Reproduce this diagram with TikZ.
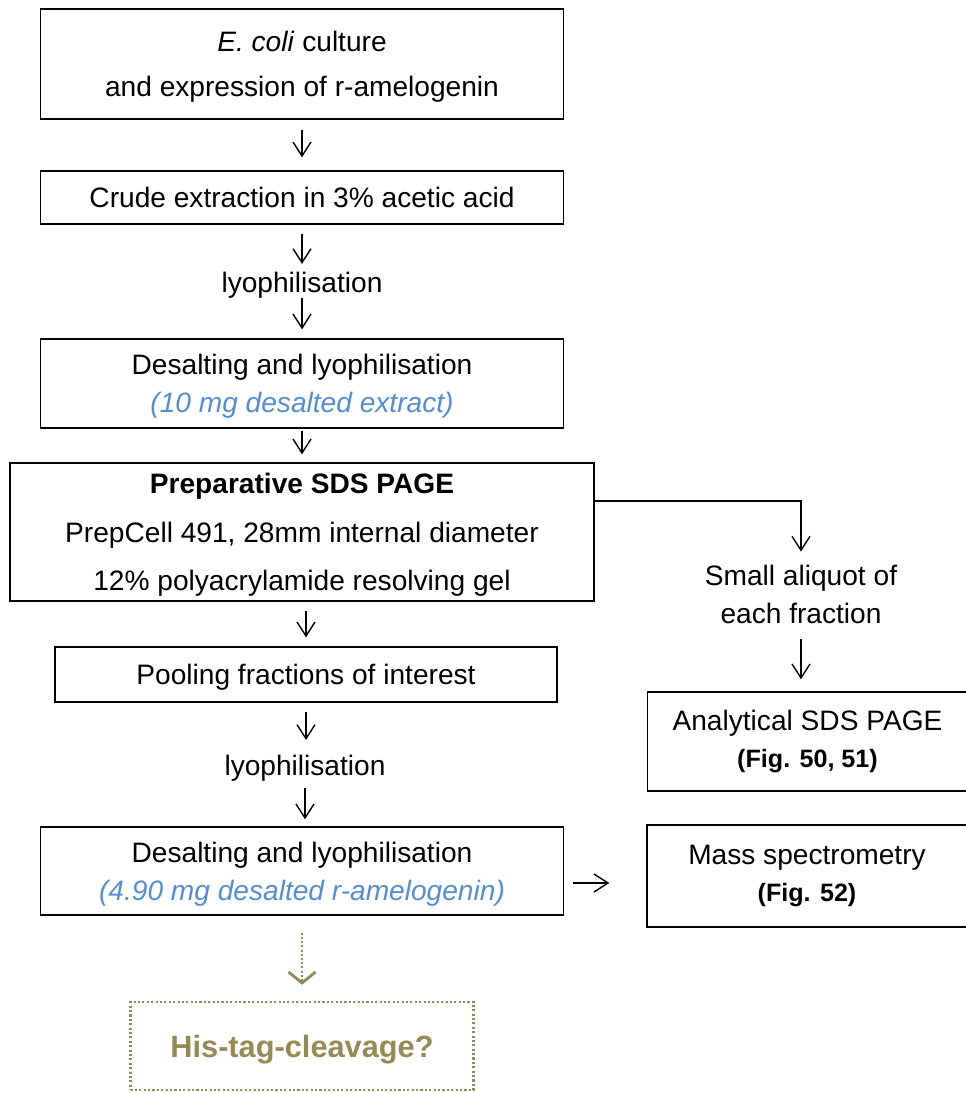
\documentclass[tikz,border=0pt]{standalone}
\usepackage{fontspec}
\setmainfont{Liberation Sans}
\usetikzlibrary{arrows.meta}

\definecolor{yieldblue}{RGB}{84,141,212}
\definecolor{outlook}{RGB}{148,138,84}

\newcommand{\yield}[1]{{\color{yieldblue}\itshape #1}}
\newcommand{\figcite}[1]{{\fontsize{14.3}{18}\selectfont\bfseries #1}}

\tikzstyle{stage} = [rectangle, minimum width=10.46cm, minimum height=1.06cm, inner sep=0pt, text depth=0pt, text centered, align=center, draw=black, line width=0.8pt]
\tikzstyle{treat} = [inner sep=0pt, text depth=0pt, text centered, align=center]
\tikzstyle{result} = [rectangle, minimum width=6.4cm, minimum height=2cm, inner sep=0pt, text centered, align=center, draw=black, line width=0.8pt, font=\fontsize{16}{21}\selectfont]
\tikzstyle{pending} = [rectangle, minimum width=6.86cm, minimum height=1.76cm, text depth=0pt, text centered, draw=outlook, line width=1.4pt, dash pattern=on 1.2pt off 1.3pt, text=outlook, font=\fontsize{17.5}{21}\selectfont\bfseries]
\tikzstyle{arrow} = [line width=0.8pt, -{Straight Barb[length=2.8mm, width=3.6mm]}]
\tikzstyle{dotarrow} = [draw=outlook, line width=1.5pt, dash pattern=on 1.1pt off 1.3pt, -{Straight Barb[length=2.2mm, width=5.4mm, line width=1.6pt]}]

\begin{document}
\begin{tikzpicture}[font=\fontsize{16}{21.5}\selectfont]
	\useasboundingbox (0,0) rectangle (19.32,-21.86);

	% main purification line
	\node (culture) [stage, minimum height=2.2cm, font=\fontsize{16}{25.5}\selectfont] at (6.04,-1.28) {\textit{E. coli} culture\\and expression of r-amelogenin};
	\node (crude) [stage, node distance=2.67cm, below of=culture] {Crude extraction in 3\% acetic acid};
	\node (lyo1) [treat, node distance=1.69cm, below of=crude] {lyophilisation};
	\node (desalt1) [stage, minimum height=1.78cm, node distance=2.03cm, below of=lyo1] {Desalting and lyophilisation\\\yield{(10 mg desalted extract)}};
	\node (prep) [stage, minimum width=11.68cm, minimum height=2.76cm, font=\fontsize{16}{27.5}\selectfont, node distance=2.97cm, below of=desalt1] {\textbf{Preparative SDS PAGE}\\PrepCell 491, 28mm internal diameter\\12\% polyacrylamide resolving gel};
	\node (pool) [stage, minimum width=10.04cm, minimum height=1.1cm, node distance=2.85cm, below of=prep, xshift=0.08cm] {Pooling fractions of interest};
	\node (lyo2) [treat, node distance=1.81cm, below of=pool, xshift=-0.02cm] {lyophilisation};
	\node (desalt2) [stage, minimum height=1.76cm, node distance=2.12cm, below of=lyo2, xshift=-0.06cm] {Desalting and lyophilisation\\\yield{(4.90 mg desalted r-amelogenin)}};
	\node (his) [pending, node distance=3.5cm, below of=desalt2] {His-tag-cleavage?};

	% analysis branch
	\node (aliquot) [treat, node distance=9.98cm, right of=prep, yshift=-1.24cm] {Small aliquot of\\each fraction};
	\node (analytical) [result, minimum height=1.98cm, node distance=2.95cm, below of=aliquot, xshift=0.13cm] {Analytical SDS PAGE\\\figcite{(Fig. 50, 51)}};
	\node (mass) [result, minimum height=2.04cm, node distance=10.1cm, right of=desalt2, yshift=-0.1cm] {Mass spectrometry\\\figcite{(Fig. 52)}};

	\draw [arrow, shorten <=0.2cm, shorten >=0.26cm] (culture) -- (crude);
	\draw [arrow, shorten <=0.18cm, shorten >=0.15cm] (crude) -- (lyo1);
	\draw [arrow, shorten <=0.11cm, shorten >=0.18cm] (lyo1) -- (desalt1);
	\draw [arrow, shorten <=0.04cm, shorten >=0.16cm] (desalt1) -- (prep);
	\draw [arrow, shorten <=0.18cm, shorten >=0.18cm] (prep.south -| pool) -- (pool);
	\draw [arrow, shorten <=0.18cm, shorten >=0.29cm] (pool) -- (pool |- lyo2.north);
	\draw [arrow, shorten <=0.25cm, shorten >=0.14cm] (lyo2) -- (lyo2 |- desalt2.north);
	\draw [dotarrow, shorten <=0.34cm, shorten >=0.32cm] (desalt2) -- (his);

	\draw [arrow, shorten >=0.26cm] ([yshift=0.62cm]prep.east) -| (aliquot.north);
	\draw [arrow, shorten <=0.32cm, shorten >=0.24cm] (aliquot) -- (aliquot |- analytical.north);
	\draw [arrow, shorten <=0.18cm, shorten >=0.74cm] ([yshift=-0.24cm]desalt2.east) -- ([yshift=-0.24cm]desalt2.east -| mass.west);

\end{tikzpicture}
\end{document}
